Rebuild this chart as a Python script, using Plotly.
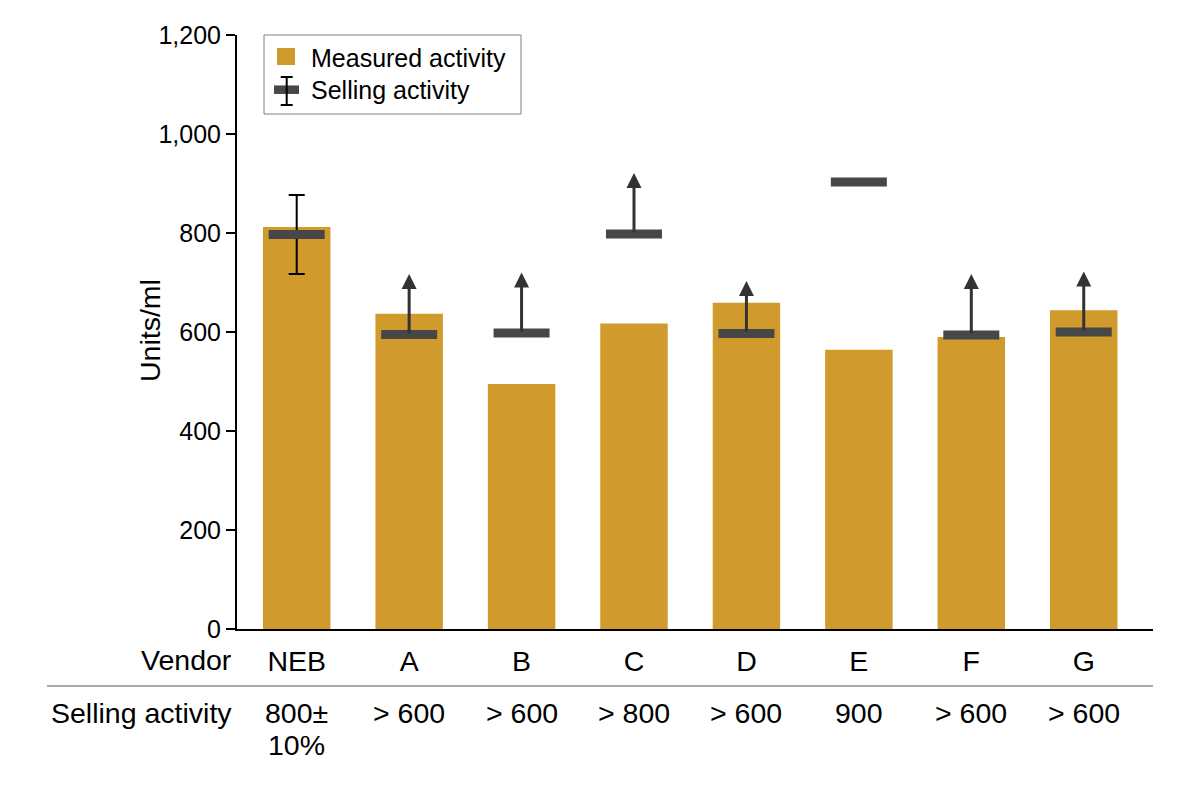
import plotly.graph_objects as go

# -----------------------------
# data
# -----------------------------
vendors = ["NEB", "A", "B", "C", "D", "E", "F", "G"]
measured = [812, 637, 495, 617, 659, 564, 590, 644]
selling = [797, 595, 598, 798, 597, 903, 594, 600]
arrow_tips = [None, 717, 720, 921, 703, None, 717, 722]
err_plus = [80, 0, 0, 0, 0, 0, 0, 0]
err_minus = [80, 0, 0, 0, 0, 0, 0, 0]
selling_labels = ["800±<br>10%", "> 600", "> 600", "> 800", "> 600", "900", "> 600", "> 600"]
y_ticks = [0, 200, 400, 600, 800, 1000, 1200]

FONT = "Liberation Sans, Arial, Helvetica, sans-serif"
FS = 25      # axis ticks + legend
FS_TAB = 28.5  # vendor / selling-activity table and y title
GOLD = "#D09B2C"
DARK = "#474747"

# figure geometry (page has an 8px body margin)
W, H = 1184, 772
L, R, T, B = 229, 39, 27, 151
PW, PH = W - L - R, H - T - B


def px_x(x):
    # figure pixel -> paper x
    return (x - L) / PW


def px_y(y):
    # figure pixel -> paper y
    return (H - B - y) / PH


idx = list(range(len(vendors)))

fig = go.Figure()

fig.add_trace(go.Bar(
    x=idx, y=measured, name="Measured activity", showlegend=False,
    width=0.6, marker=dict(color=GOLD, line=dict(width=0)),
))

fig.add_trace(go.Scatter(
    x=idx, y=selling, name="Selling activity", mode="markers", showlegend=False,
    marker=dict(symbol="line-ew", size=40, color=DARK,
                line=dict(color=DARK, width=9)),
    error_y=dict(type="data", symmetric=False, array=err_plus,
                 arrayminus=err_minus, color="black", thickness=2, width=8),
))

# "greater than" arrows
for i, tip in enumerate(arrow_tips):
    if tip is None:
        continue
    fig.add_annotation(
        x=i, y=tip, ax=i, ay=selling[i], xref="x", yref="y",
        axref="x", ayref="y", text="", showarrow=True,
        arrowhead=2, arrowsize=1.0, arrowwidth=3, arrowcolor="#333333",
        standoff=0, startstandoff=0,
    )

# table row under the axis (each line placed separately for tight leading)
tab_font = dict(size=FS_TAB, color="black", family=FONT)
for i, lab in enumerate(selling_labels):
    for k, part in enumerate(lab.split("<br>")):
        fig.add_annotation(
            x=i, y=px_y(705 + 32 * k), xref="x", yref="paper", text=part,
            showarrow=False, yanchor="middle", font=tab_font,
        )
fig.add_annotation(
    x=px_x(226), y=px_y(705), xref="paper", yref="paper", text="Selling activity",
    showarrow=False, xanchor="right", yanchor="middle", font=tab_font,
)
fig.add_annotation(
    x=px_x(226), y=px_y(652), xref="paper", yref="paper", text="Vendor",
    showarrow=False, xanchor="right", yanchor="middle", font=tab_font,
)
fig.add_shape(type="line", xref="paper", yref="paper",
              x0=px_x(39), x1=1.0, y0=px_y(678), y1=px_y(678),
              line=dict(color="#AAAAAA", width=2))

# y axis title
fig.add_annotation(
    x=px_x(142), y=px_y(323), xref="paper", yref="paper", text="Units/ml",
    showarrow=False, textangle=-90, xanchor="center", yanchor="middle",
    font=tab_font,
)

# legend box
def pshape(kind, x0, y0, x1, y1, **kw):
    fig.add_shape(type=kind, xref="paper", yref="paper",
                  x0=px_x(x0), x1=px_x(x1), y0=px_y(y0), y1=px_y(y1), **kw)


pshape("rect", 256, 27, 513, 106, line=dict(color="#808080", width=1),
       fillcolor="white", layer="above")
pshape("rect", 269, 40, 287, 57, line=dict(width=0), fillcolor=GOLD, layer="above")
pshape("line", 266, 81.7, 291, 81.7, line=dict(color=DARK, width=8.5), layer="above")
pshape("line", 278.7, 69, 278.7, 97, line=dict(color="black", width=2), layer="above")
pshape("line", 272.7, 69, 284.7, 69, line=dict(color="black", width=2), layer="above")
pshape("line", 272.7, 97, 284.7, 97, line=dict(color="black", width=2), layer="above")
for name, yc in [("Measured activity", 49.7), ("Selling activity", 82)]:
    fig.add_annotation(
        x=px_x(301), y=px_y(yc), xref="paper", yref="paper", text=name,
        showarrow=False, xanchor="left", yanchor="middle",
        font=dict(size=FS, color="black", family=FONT),
    )

fig.update_layout(
    width=W, height=H,
    margin=dict(l=L, r=R, t=T, b=B),
    plot_bgcolor="white", paper_bgcolor="white",
    font=dict(family=FONT, size=FS, color="black"),
    showlegend=False,
    xaxis=dict(
        tickmode="array", tickvals=idx, ticktext=vendors,
        range=[-0.531, 7.616], showline=True, linecolor="black", linewidth=2,
        ticks="", showgrid=False, zeroline=False, ticklabelstandoff=6,
        tickfont=dict(size=FS_TAB),
    ),
    yaxis=dict(
        range=[0, 1200], tickvals=y_ticks, tickformat=",",
        showline=True, linecolor="black", linewidth=2,
        ticks="outside", ticklen=9, tickwidth=2, tickcolor="black",
        showgrid=False, zeroline=False, tickfont=dict(size=FS),
    ),
)

fig.write_html("out.html")
